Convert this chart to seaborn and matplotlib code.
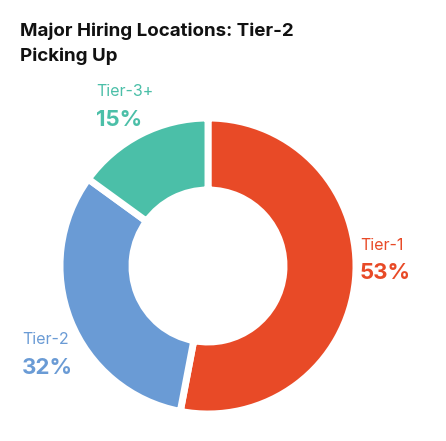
import matplotlib
matplotlib.use("Agg")
import matplotlib.pyplot as plt
import seaborn as sns

labels = ["Tier-1", "Tier-2", "Tier-3+"]
shares = [53, 32, 15]
colors = ["#E84A27", "#6A9BD5", "#4BBFA8"]

sns.set_style("white")
plt.rcParams["font.family"] = ["Inter", "DejaVu Sans"]

fig = plt.figure(figsize=(4.46, 4.41), dpi=100)
ax = fig.add_axes([0, 0, 1, 1])

wedges, _ = ax.pie(shares, colors=colors, startangle=90, counterclock=False,
                   radius=148, center=(208, 175), frame=True,
                   wedgeprops=dict(width=72, edgecolor="white", linewidth=5,
                                   joinstyle="round"))
ax.set_xlim(0, 446)
ax.set_ylim(0, 441)
ax.axis("off")

# label positions in pixel coords (x, y from top)
pos = [(360, 245, "left"), (22, 340, "left"), (96, 92, "left")]
for (x, y, ha), lab, val, c in zip(pos, labels, shares, colors):
    ax.text(x, 441 - y, lab, color=c, fontsize=11.5, ha=ha, va="center")
    ax.text(x, 441 - y - 28, f"{val}%", color=c, fontsize=16, fontweight="bold",
            ha=ha, va="center")

fig.text(20 / 446, 1 - 22 / 441, "Major Hiring Locations: Tier-2\nPicking Up",
         fontsize=13.5, fontweight="bold", color="#111111", va="top", ha="left",
         linespacing=1.6)

fig.savefig("out.png", dpi=100)
